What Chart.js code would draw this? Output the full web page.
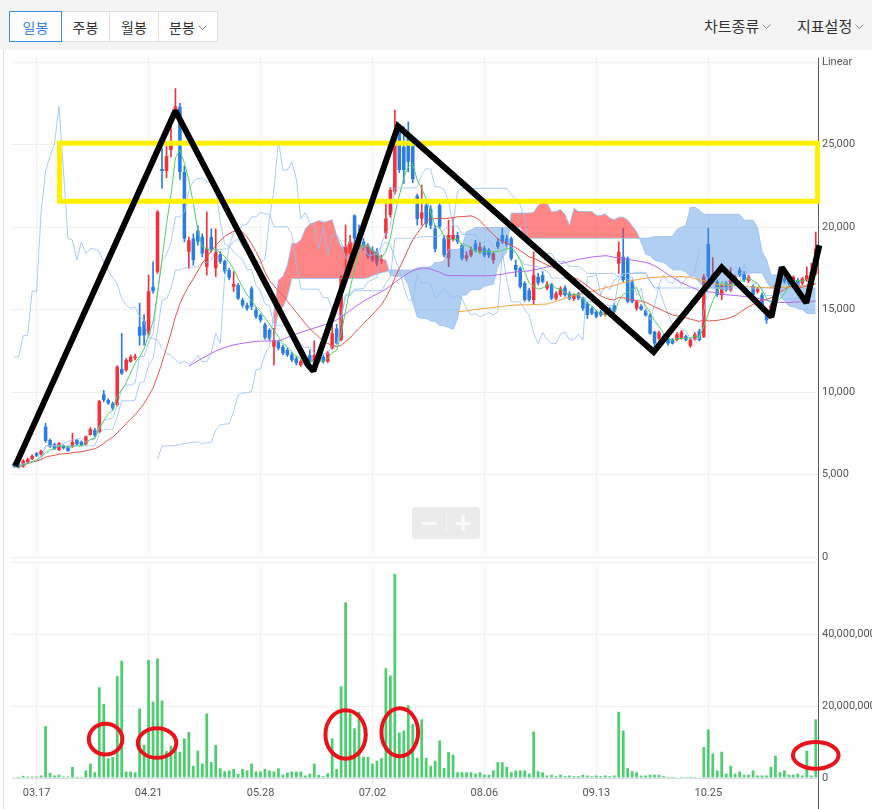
<!DOCTYPE html>
<html lang="ko">
<head>
<meta charset="utf-8">
<title>일봉 차트</title>
<script src="https://cdn.jsdelivr.net/npm/chart.js@4.4.1/dist/chart.umd.min.js"></script>
<style>
  html, body { margin: 0; padding: 0; background: #fff; }
  body { width: 872px; height: 809px; position: relative; overflow: hidden;
         font-family: "Noto Sans CJK KR", "Noto Sans", sans-serif; }
  .toolbar { position: absolute; left: 0; top: 0; width: 872px; height: 50px; background: #f4f4f4; }
  .panel-edge { position: absolute; left: 3px; top: 50px; width: 1px; height: 759px; background: #dcdcdc; }
  .tabs { position: absolute; left: 10px; top: 11px; display: flex; }
  .tab { height: 31px; box-sizing: border-box; border: 1px solid #dedede; background: #fff;
         font-size: 14px; color: #333; display: flex; align-items: center; justify-content: center;
         margin-left: -1px; position: relative; }
  .tab.on { border-color: #3b8de8; color: #3b86e0; z-index: 1; }
  .menu { position: absolute; top: 15px; font-size: 15px; color: #333; display: flex; align-items: center; }
  .chev { margin-left: 3px; margin-top: 2px; }
  .zoomctl { position: absolute; left: 412px; top: 507px; width: 68px; height: 32px; background: #ebebeb;
             border-radius: 3px; display: flex; align-items: center; }
  .zoomctl span { width: 34px; text-align: center; color: #fafafa; font: bold 24px "DejaVu Sans", sans-serif; line-height: 32px; }
  .zoomctl .sep { position: absolute; left: 34px; top: 6px; width: 1px; height: 20px; background: #f6f6f6; }
  canvas { position: absolute; left: 0; }
</style>
</head>
<body>
<div class="toolbar">
  <div class="tabs">
    <div class="tab on" style="width:53px">일봉</div>
    <div class="tab" style="width:49px">주봉</div>
    <div class="tab" style="width:50px">월봉</div>
    <div class="tab" style="width:60px">분봉<svg class="chev" width="9" height="6"><polyline points="0.5,0.5 4.5,4.5 8.5,0.5" fill="none" stroke="#888" stroke-width="1"/></svg></div>
  </div>
  <div class="menu" style="left:704px">차트종류<svg class="chev" width="9" height="6"><polyline points="0.5,0.5 4.5,4.5 8.5,0.5" fill="none" stroke="#888" stroke-width="1"/></svg></div>
  <div class="menu" style="left:797px">지표설정<svg class="chev" width="9" height="6"><polyline points="0.5,0.5 4.5,4.5 8.5,0.5" fill="none" stroke="#888" stroke-width="1"/></svg></div>
</div>
<div class="panel-edge"></div>
<canvas id="priceCanvas" width="872" height="525" style="top:45px"></canvas>
<canvas id="volumeCanvas" width="872" height="259" style="top:550px"></canvas>
<div class="zoomctl"><span>−</span><div class="sep"></div><span>+</span></div>

<script>
// Daily bars, 03.10 .. 11.26 (180 sessions), prices in won
const opens = [
  5680,5620,5480,5740,5940,6290,6220,7900,7100,6830,
  6490,6750,6690,6690,7100,6990,6830,7400,7700,7600,
  9860,9520,9310,9210,11400,11330,11840,12050,13960,14300,
  13500,16390,17300,23520,23400,24670,27000,27290,23350,18500,
  19310,19800,19410,17600,19400,17500,18340,17940,17400,16390,
  16490,15580,15270,16280,14970,14670,14100,13760,12750,13050,
  12750,12550,12280,12040,11640,11880,12240,11840,12140,12140,
  11840,12650,13860,13150,18400,18400,20700,19620,19110,18810,
  18610,18500,17940,19620,20730,22150,25780,24870,25370,24900,
  21900,20530,21330,21100,19920,21330,19310,18100,19270,19520,
  18910,18100,18300,19010,18510,18710,18610,18000,19110,19520,
  19310,19310,17700,17500,16590,16180,15580,16990,17090,16280,
  16530,15680,15880,16320,15980,15640,15980,15680,15370,15070,
  14870,14870,14670,15070,15270,17800,18200,18100,16690,15070,
  15210,14930,14660,13650,13250,13390,13250,13190,13150,13250,
  13390,12790,13190,13710,13350,18970,16690,16690,15880,16580,
  16180,16790,17390,17190,16750,16420,16080,15880,14760,14660,
  15880,16580,16890,16890,16790,16790,16580,16790,16990,17190
];
const highs = [
  5750,5700,5900,6000,6200,6350,6480,8100,7150,6900,
  6950,6800,6720,7500,7150,7050,7350,7850,7800,9500,
  10100,9600,9400,11600,13560,12050,12250,12300,15400,14700,
  17100,17900,21000,24770,24900,26180,28400,27500,23700,19400,
  19600,20100,19600,20930,19900,19900,18500,18000,17500,17300,
  16600,15700,15400,16400,15100,14750,14200,13850,13860,13150,
  12850,12650,12400,12150,11950,11950,12550,13100,12300,12250,
  12450,14060,14100,17100,20120,19500,20750,20130,19300,19000,
  18800,18700,18300,21640,22400,27100,26200,26100,26380,25500,
  22000,22550,21500,21300,20100,21500,19500,20430,20530,19700,
  19000,18500,18800,19200,19100,18850,18700,18500,19300,19920,
  19500,19400,18000,17600,16700,16300,18510,17200,17300,16700,
  16600,16100,16400,16450,16100,15950,16050,15750,15450,15150,
  14950,14950,14900,15150,15400,19110,19920,18200,16800,15550,
  15300,15000,14750,13700,13700,13500,13300,13250,13600,13750,
  13450,13250,13600,13800,17140,19920,18150,16800,16550,16700,
  17550,17100,17550,17300,17100,16500,16350,16000,14850,15350,
  16550,17150,17000,17000,17050,16900,16950,17590,17800,19700
];
const lows = [
  5430,5380,5450,5700,5900,6080,6180,6950,6650,6500,
  6450,6550,6400,6650,6800,6750,6800,7380,7300,7550,
  9400,9250,8900,9150,11050,11250,11800,11950,12850,12850,
  13400,16000,17200,22340,23000,24260,26600,22900,19100,17500,
  17700,18900,18200,17090,18500,17000,17800,17200,16800,16100,
  15600,15150,14950,15000,14450,14250,13200,13150,11640,12550,
  12250,12150,11850,11650,11550,11600,11750,11800,11750,11750,
  11800,12600,12900,13100,17300,18200,19100,18700,18600,18100,
  17900,17650,17800,19300,20600,22000,23300,22650,23350,22700,
  20120,20120,20000,19900,18500,19900,18200,17600,19150,19000,
  18000,17950,18200,18500,18400,18200,18150,17800,18700,19000,
  18800,18000,17000,16300,15500,15500,15300,16500,16600,16200,
  15600,15600,15800,15800,15600,15550,15600,14950,14460,14700,
  14500,14600,14600,14600,14800,17190,16700,15400,15400,14950,
  14950,14600,13500,12700,13150,13100,12850,12900,13100,13200,
  13100,12700,13150,13100,13300,16800,16600,15800,15600,16100,
  16100,16700,17000,16700,16650,15800,16000,14900,14160,14600,
  15800,16500,16600,16500,16700,16400,16500,16700,16900,17100
];
const closes = [
  5480,5420,5840,5920,6140,6140,6430,7030,6690,6550,
  6890,6590,6430,6990,6830,6790,7300,7760,7360,9460,
  9520,9310,9010,11540,11130,11940,12140,12150,13420,13450,
  16120,16120,20930,23400,24300,25070,27330,23350,19310,19210,
  18000,19110,18400,18700,18670,18500,17900,17330,16930,16550,
  15680,15270,15070,15170,14570,14360,13290,13250,13150,12650,
  12350,12240,11940,11740,11880,11680,11840,12240,11840,11840,
  12400,13560,12950,16970,18810,19110,19300,18810,18710,18200,
  18000,17800,18060,20530,22250,25280,23460,23460,23960,22900,
  20500,20890,20220,20100,18670,20020,18300,19520,19520,19110,
  18100,18300,18610,18610,18810,18300,18300,18400,18810,19110,
  18910,18100,17400,16390,15580,15580,17090,16590,16690,16530,
  15680,15980,16280,15880,15680,15880,15680,15070,14670,14770,
  14570,14670,14830,14670,14870,18500,16790,15470,15470,15470,
  15010,14660,13550,12950,13610,13190,12950,12950,13510,13650,
  13150,13190,13510,13150,16990,16990,17140,15880,16480,16180,
  16790,16990,17090,16790,16990,15880,16280,14970,14360,15270,
  16480,17090,16690,16580,16990,16480,16890,17090,17290,18700
];
// Traded shares per session, in millions
const volumeMillions = [
  0.2,0.3,0.6,0.4,0.4,0.4,0.7,14.4,1.4,0.7,
  0.9,0.4,0.4,3.1,0.3,0.3,2.1,4.0,1.6,25.2,
  20.6,5.5,5.8,28.3,32.6,1.8,1.8,1.6,19.3,9.2,
  32.8,21.2,33.2,21.5,7.5,9.0,8.4,7.3,11.0,12.8,
  3.4,7.6,4.0,17.9,4.4,9.2,2.7,1.9,2.1,2.5,
  1.2,2.5,2.1,4.0,1.8,1.8,2.5,2.1,1.8,2.7,
  0.9,1.5,1.8,1.8,1.8,0.7,1.2,4.0,0.9,0.5,
  1.3,11.0,2.5,25.5,48.8,17.9,13.8,18.4,5.9,5.9,
  4.0,4.8,5.5,30.5,28.5,56.7,12.6,13.2,20.2,15.0,
  5.6,16.3,5.6,3.4,4.8,10.4,2.8,7.2,6.5,1.6,
  1.6,1.6,1.6,1.2,1.6,0.9,0.9,2.1,4.4,4.4,
  3.1,1.6,2.1,2.1,2.1,1.2,12.9,1.9,1.6,0.7,
  0.9,0.5,0.9,0.5,0.7,0.5,0.5,0.9,0.7,0.5,
  0.7,0.5,0.7,0.5,0.7,18.4,13.2,2.8,1.9,1.6,
  0.7,0.7,0.9,0.9,0.9,0.5,0.3,0.3,0.1,0.3,
  0.3,0.3,0.3,0.1,8.6,13.5,6.8,2.1,7.3,1.2,
  3.4,1.2,1.8,0.9,0.9,2.1,0.7,0.7,0.7,3.1,
  6.2,1.6,2.1,0.9,0.9,1.2,0.7,7.6,0.7,16.3
];
// Date labels on the time axis and the sessions they sit on
const tickIndex = [5, 30, 55, 80, 105, 130, 155];
const tickLabels = ['03.17', '04.21', '05.28', '07.02', '08.06', '09.13', '10.25'];
// Price and volume axis ticks
const priceTicks = [0, 5000, 10000, 15000, 20000, 25000, 30000];
const volumeTicks = [0, 20000000, 40000000, 60000000];

// Hand-drawn markup: trend zigzag (session, price), resistance box, volume circles
const zigzagPoints = [
  [0.2, 5510], [36.0, 27050], [65.6, 11650], [66.8, 11270], [85.7, 26120],
  [142.8, 12440], [158.0, 17560], [169.1, 14560], [171.4, 17560], [176.9, 15410], [179.8, 18900]
];
const resistanceBox = { fromBar: 10.1, toBar: 179.4, low: 21570, high: 25090 };
const volumeCircles = [   // [session, volume (M), half-width in sessions, half-height (M)]
  [20.4, 10.8, 3.75, 4.3], [31.9, 9.7, 4.3, 4.1], [74.0, 12.1, 4.5, 6.75],
  [86.1, 12.7, 4.1, 6.65], [179.0, 6.3, 5.1, 3.7]
];

// ---- indicators derived from the bars ----
const barIndex = closes.map((_, i) => i);
function movingAverage(period, firstShown) {
  return barIndex.map(i => {
    if (i < firstShown) return null;
    const from = Math.max(0, i - period + 1);
    let sum = 0;
    for (let k = from; k <= i; k++) sum += closes[k];
    return sum / (i - from + 1);
  });
}
function rangeMid(i, period) {
  const from = Math.max(0, i - period + 1);
  let hi = -Infinity, lo = Infinity;
  for (let k = from; k <= i; k++) { hi = Math.max(hi, highs[k]); lo = Math.min(lo, lows[k]); }
  return (hi + lo) / 2;
}
const ma5 = movingAverage(5, 0);
const ma20 = movingAverage(20, 0);
const ma60 = movingAverage(60, 39);
const ma120 = movingAverage(120, 99);
const conversionLine = barIndex.map(i => rangeMid(i, 9));
const baseLine = barIndex.map(i => rangeMid(i, 26));
const leadingA = barIndex.map(i => i >= 32 ? (conversionLine[i - 26] + baseLine[i - 26]) / 2 : null);
const leadingB = barIndex.map(i => i >= 58 ? rangeMid(i - 26, 52) : null);
const cloudTop = leadingA.map((v, i) => i >= 58 ? v : null);
const laggingLine = barIndex.map(i => i + 26 < closes.length ? closes[i + 26] : null);

const upColor = '#f0323c', downColor = '#2b7de0';
const candleColors = barIndex.map(i => closes[i] >= opens[i] ? upColor : downColor);
const bodies = barIndex.map(i => [opens[i], closes[i]]);
const wicks = barIndex.map(i => [lows[i], highs[i]]);
const volumes = volumeMillions.map(v => v * 1e6);

const tickFont = { family: 'Roboto, "Liberation Sans", sans-serif', size: 11 };
const gridColor = '#f1f1f1';
const axisLineColor = '#5c5c5c';

function lineSet(data, color, extra) {
  return Object.assign({ type: 'line', data, borderColor: color, borderWidth: 1, pointRadius: 0,
    fill: false, tension: 0, spanGaps: false }, extra || {});
}
function timeAxis(showLabels) {
  return {
    type: 'category', offset: true,
    afterBuildTicks: s => { s.ticks = tickIndex.map(v => ({ value: v })); },
    afterFit: s => { s.height = showLabels ? 31 : 0; },
    grid: { offset: false, color: gridColor, drawTicks: showLabels, tickLength: 6, tickColor: '#e8e8e8' },
    border: { display: showLabels, color: '#d6dee8' },
    ticks: { display: showLabels, autoSkip: false, maxRotation: 0, padding: 3, color: '#555', font: tickFont,
      callback: v => tickLabels[tickIndex.indexOf(v)] }
  };
}
function valueAxis(max, ticks, label) {
  return {
    position: 'right', min: 0, max,
    afterBuildTicks: s => { s.ticks = ticks.map(v => ({ value: v })); },
    afterFit: s => { s.width = 54; },
    grid: { color: gridColor, drawTicks: false },
    border: { display: false },
    ticks: { padding: 4, color: '#555', font: tickFont, callback: label }
  };
}
// right-hand axis line running the full height of each panel
function axisLinePlugin(fromChartTop) {
  return {
    id: 'axisLine',
    afterDraw(chart) {
      const c = chart.ctx, x = Math.round(chart.chartArea.right) + 0.5;
      const top = fromChartTop ? chart.chartArea.top + 2 : 0;
      c.save(); c.strokeStyle = axisLineColor; c.lineWidth = 1;
      c.beginPath(); c.moveTo(x, top); c.lineTo(x, chart.height); c.stroke(); c.restore();
    }
  };
}

const markupPlugin = {
  id: 'markup',
  afterDraw(chart) {
    const c = chart.ctx, xs = chart.scales.x, ys = chart.scales.y;
    c.save();
    c.strokeStyle = '#fff000'; c.lineWidth = 5;
    const x0 = xs.getPixelForValue(resistanceBox.fromBar), x1 = xs.getPixelForValue(resistanceBox.toBar);
    const y0 = ys.getPixelForValue(resistanceBox.high), y1 = ys.getPixelForValue(resistanceBox.low);
    c.strokeRect(x0, y0, x1 - x0, y1 - y0);
    c.strokeStyle = '#000'; c.lineWidth = 6; c.lineJoin = 'miter'; c.miterLimit = 2; c.lineCap = 'butt';
    c.beginPath();
    zigzagPoints.forEach(([b, p], k) => {
      const px = xs.getPixelForValue(b), py = ys.getPixelForValue(p);
      if (k === 0) c.moveTo(px, py); else c.lineTo(px, py);
    });
    c.stroke();
    c.restore();
  }
};
const circlePlugin = {
  id: 'circles',
  afterDraw(chart) {
    const c = chart.ctx, xs = chart.scales.x, ys = chart.scales.y;
    const unit = xs.getPixelForValue(1) - xs.getPixelForValue(0);
    c.save(); c.strokeStyle = '#e8131b'; c.lineWidth = 4;
    volumeCircles.forEach(([b, v, hw, hh]) => {
      const cx = xs.getPixelForValue(b), cy = ys.getPixelForValue(v * 1e6);
      const ry = Math.abs(ys.getPixelForValue((v + hh) * 1e6) - cy);
      c.beginPath(); c.ellipse(cx, cy, hw * unit, ry, 0, 0, Math.PI * 2); c.stroke();
    });
    c.restore();
  }
};

const lightBlue = 'rgba(150,190,240,0.8)';
new Chart(document.getElementById('priceCanvas'), {
  type: 'bar',
  data: {
    labels: barIndex,
    datasets: [
      lineSet(ma5, '#4fd067'),
      lineSet(ma20, '#e6534a'),
      lineSet(ma60, '#b266f2'),
      lineSet(ma120, '#f4a040'),
      lineSet(conversionLine, lightBlue),
      lineSet(baseLine, lightBlue),
      lineSet(laggingLine, lightBlue),
      lineSet(leadingA, lightBlue),
      lineSet(leadingB, lightBlue),
      lineSet(cloudTop, 'rgba(0,0,0,0)', { borderWidth: 0,
        fill: { target: '+1', above: 'rgba(255,60,60,0.62)', below: 'rgba(70,140,225,0.42)' } }),
      lineSet(leadingB, 'rgba(0,0,0,0)', { borderWidth: 0 }),
      { type: 'bar', data: bodies, backgroundColor: candleColors, grouped: false,
        barPercentage: 0.8, categoryPercentage: 1, minBarLength: 1 },
      { type: 'bar', data: wicks, backgroundColor: candleColors, grouped: false, barThickness: 1 }
    ]
  },
  options: {
    responsive: false, animation: false, devicePixelRatio: 1, events: [],
    layout: { padding: { left: 12, right: 0, top: 10, bottom: 13 } },
    plugins: { legend: { display: false }, tooltip: { enabled: false } },
    scales: {
      x: timeAxis(false),
      y: valueAxis(30400, priceTicks, v => v === 30000 ? 'Linear' : v.toLocaleString('en-US'))
    }
  },
  plugins: [axisLinePlugin(true), markupPlugin]
});

new Chart(document.getElementById('volumeCanvas'), {
  type: 'bar',
  data: {
    labels: barIndex,
    datasets: [{ data: volumes, backgroundColor: '#4fcd70', barPercentage: 0.62, categoryPercentage: 1 }]
  },
  options: {
    responsive: false, animation: false, devicePixelRatio: 1, events: [],
    layout: { padding: { left: 12, right: 0, top: 12, bottom: 0 } },
    plugins: { legend: { display: false }, tooltip: { enabled: false } },
    scales: {
      x: timeAxis(true),
      y: valueAxis(60000000, volumeTicks, v => v >= 60000000 ? '' : v.toLocaleString('en-US'))
    }
  },
  plugins: [axisLinePlugin(false), circlePlugin]
});
</script>
</body>
</html>
